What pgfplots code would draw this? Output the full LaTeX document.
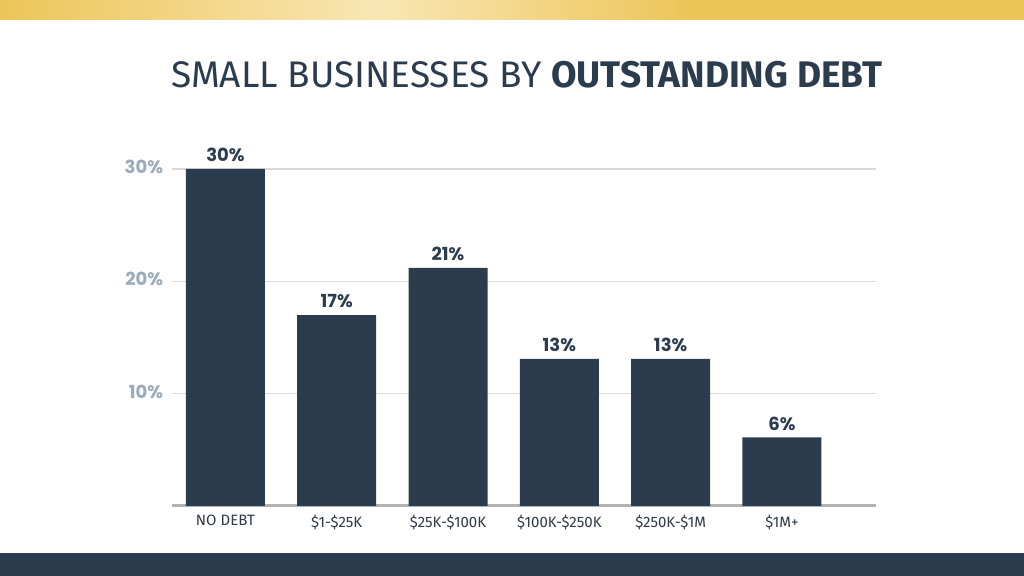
\documentclass[border=0pt]{standalone}
\usepackage{pgfplots}
\pgfplotsset{compat=1.18}
\usepackage{pgfplotstable}
\usepackage{fontspec}
\setmainfont{Fira Sans}
\newfontfamily\pop{Poppins}
\definecolor{navy}{HTML}{2B3C4F}
\definecolor{gold}{HTML}{EDC558}
\definecolor{goldlight}{HTML}{F8E6B4}
\definecolor{ticklab}{HTML}{9AABBB}
\definecolor{catlab}{HTML}{2F3A46}
\pgfplotstableread{
x y label
0 30 30\%
1 17 17\%
2 21.2 21\%
3 13.1 13\%
4 13.1 13\%
5 6.1 6\%
}\debt
\begin{document}
\begin{tikzpicture}
\useasboundingbox (0,0) rectangle (512pt,288pt);
\fill[white] (0,0) rectangle (512pt,288pt);
\shade[left color=gold, right color=goldlight] (0,278pt) rectangle (190pt,288pt);
\shade[left color=goldlight, right color=gold] (190pt,278pt) rectangle (345pt,288pt);
\fill[gold] (345pt,278pt) rectangle (512pt,288pt);
\fill[navy] (0,0) rectangle (512pt,11.5pt);
\node[text=navy, font=\fontsize{18.5}{22}\selectfont, inner sep=0pt] at (263.5pt,250.5pt) {SMALL BUSINESSES BY \textbf{OUTSTANDING DEBT}};
\begin{axis}[
  at={(86pt,35pt)}, anchor=south west,
  scale only axis, width=352pt, height=168.5pt,
  xmin=-0.48, xmax=5.845, ymin=0, ymax=30,
  axis line style={draw=none}, major tick length=0pt,
  ytick={10,20,30}, yticklabels={10\%,20\%,30\%},
  ymajorgrids, grid style={color=black!15, line width=0.6pt},
  extra y ticks={0}, extra y tick labels={},
  extra y tick style={grid style={color=black!30, line width=1.5pt}},
  xtick={0,1,2,3,4,5},
  xticklabels={NO DEBT,\$1-\$25K,\$25K-\$100K,\$100K-\$250K,\$250K-\$1M,\$1M+},
  xticklabel style={font=\fontsize{7.5}{9}\selectfont, text=catlab, yshift=-1pt},
  yticklabel style={font=\pop\bfseries\fontsize{9}{10}\selectfont, text=ticklab, xshift=-1pt, yshift=1pt},
  clip=false,
]
\addplot[ybar, bar width=39.5pt, fill=navy, draw=none,
  nodes near coords, point meta=explicit symbolic,
  every node near coord/.append style={font=\pop\bfseries\fontsize{9}{10}\selectfont, text=navy, yshift=0pt}]
  table[x=x, y=y, meta=label] {\debt};
\end{axis}
\end{tikzpicture}
\end{document}
